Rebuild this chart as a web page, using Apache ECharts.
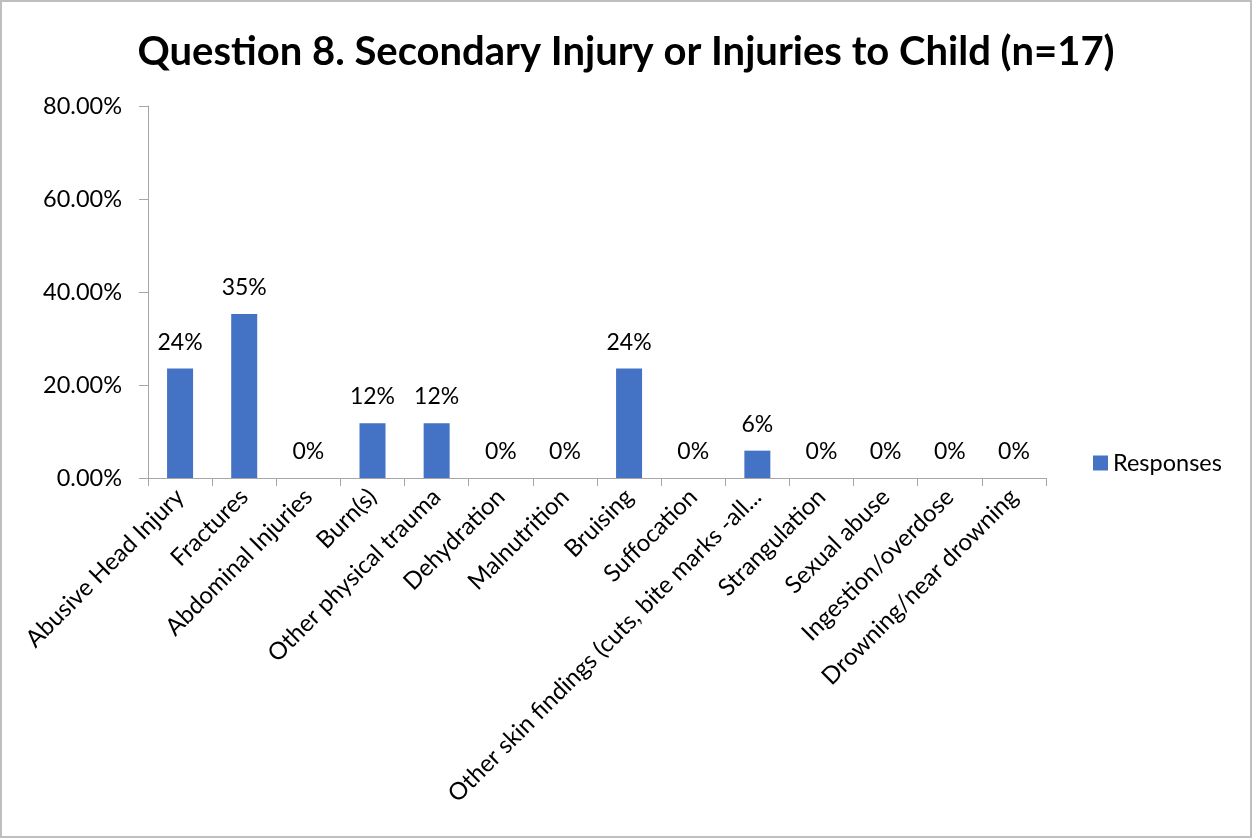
<!DOCTYPE html>
<html>
<head>
<meta charset="utf-8">
<script src="https://cdn.jsdelivr.net/npm/echarts@6/dist/echarts.min.js"></script>
<style>
  html, body { margin: 0; padding: 0; background: #fff; }
  #chart { width: 1248px; height: 834px; border: 2px solid #bfbfbf; }
</style>
</head>
<body>
<div id="chart"></div>
<script>
// categories along the x axis
var categories = ['Abusive Head Injury', 'Fractures', 'Abdominal Injuries', 'Burn(s)',
    'Other physical trauma', 'Dehydration', 'Malnutrition', 'Bruising', 'Suffocation',
    'Other skin findings (cuts, bite marks -all...', 'Strangulation', 'Sexual abuse',
    'Ingestion/overdose', 'Drowning/near drowning'];
// percent of responses (n=17)
var responses = [23.53, 35.29, 0, 11.76, 11.76, 0, 0, 23.53, 0, 5.88, 0, 0, 0, 0];
var yTicks = { min: 0, max: 80, interval: 20 };

var fontName = 'Lato, "Open Sans", sans-serif';
var myChart = echarts.init(document.getElementById('chart'));
var option = {
    backgroundColor: '#fff',
    title: {
        text: 'Question 8. Secondary Injury or Injuries to Child (n=17)',
        left: 'center',
        top: 25,
        textStyle: { fontFamily: fontName, fontSize: 40, fontWeight: 'bold', color: '#000' }
    },
    legend: {
        data: ['Responses'],
        orient: 'vertical',
        left: 1086,
        top: 444,
        itemWidth: 15,
        itemHeight: 15,
        itemGap: 8,
        icon: 'rect',
        textStyle: { fontFamily: fontName, fontSize: 23.5, color: '#000' }
    },
    grid: { left: 146, right: 204, top: 104, bottom: 358, containLabel: false },
    xAxis: {
        type: 'category',
        data: categories,
        axisLine: { lineStyle: { color: '#a6a6a6', width: 1 } },
        axisTick: { show: true, alignWithLabel: false, length: 8, lineStyle: { color: '#a6a6a6' } },
        axisLabel: {
            rotate: 45,
            interval: 0,
            margin: 15,
            color: '#000',
            fontFamily: fontName,
            fontSize: 24
        }
    },
    yAxis: {
        type: 'value',
        min: yTicks.min,
        max: yTicks.max,
        interval: yTicks.interval,
        splitLine: { show: false },
        axisLine: { show: true, lineStyle: { color: '#a6a6a6', width: 1 } },
        axisTick: { show: true, length: 9, lineStyle: { color: '#a6a6a6' } },
        axisLabel: {
            color: '#000',
            fontFamily: fontName,
            fontSize: 23.5,
            margin: 26,
            formatter: function (v) { return v.toFixed(2) + '%'; }
        }
    },
    series: [{
        name: 'Responses',
        type: 'bar',
        data: responses,
        barWidth: 26,
        itemStyle: { color: '#4472c4' },
        label: {
            show: true,
            position: 'top',
            distance: 15,
            color: '#000',
            fontFamily: fontName,
            fontSize: 23,
            formatter: function (p) { return Math.round(p.value) + '%'; }
        }
    }]
};
myChart.setOption(option);
</script>
</body>
</html>
